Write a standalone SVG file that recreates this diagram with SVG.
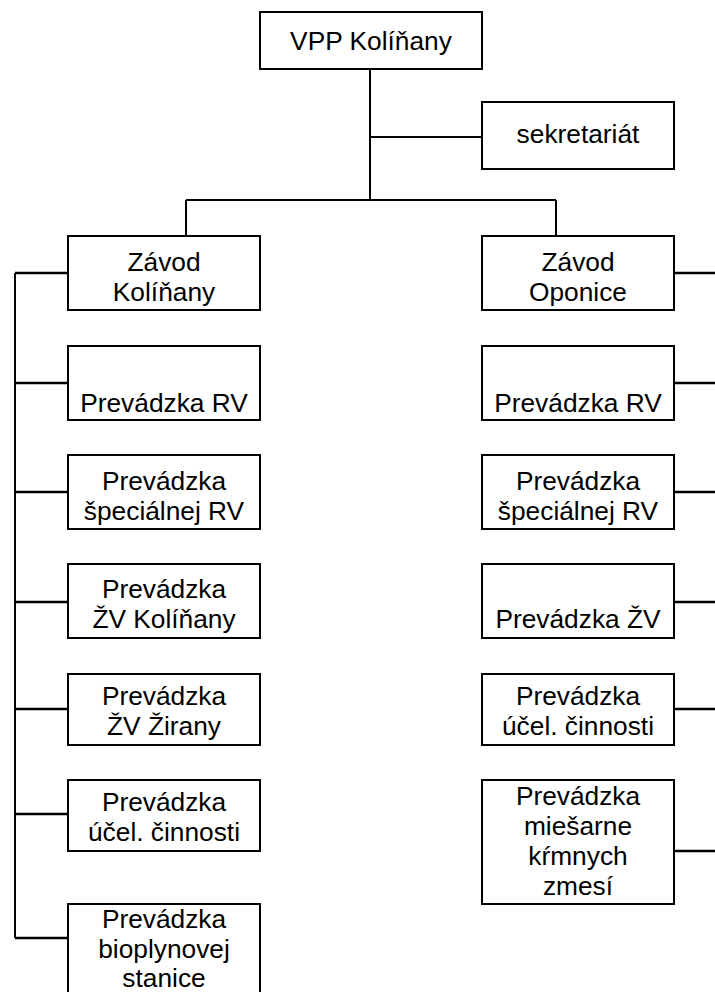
<svg xmlns="http://www.w3.org/2000/svg" width="715" height="992" viewBox="0 0 715 992">
<style>
.box{fill:#fff;stroke:#000;stroke-width:2}
.t{font-family:"Liberation Sans",Arial,sans-serif;font-size:26.3px;fill:#000;text-anchor:middle}
.c{stroke:#000;stroke-width:2;fill:none}
.s{stroke:#000;stroke-width:2.5;fill:none}
</style>
<rect width="715" height="992" fill="#fff"/>
<g id="connectors">
<path class="c" d="M370,69 V200 M370,137 H482 M186,200 H556 M186,200 V236 M556,200 V236"/>
<path class="c" d="M15,273 V938"/>
<path class="s" d="M15,273 H68 M15,383 H68 M15,492 H68 M15,602 H68 M15,709 H68 M15,814 H68 M15,938 H68"/>
<path class="s" d="M674,273 H715 M674,383 H715 M674,492 H715 M674,602 H715 M674,709 H715 M674,851 H715"/>
</g>
<g id="n-vpp"><rect class="box" x="260" y="12" width="222" height="57"/><text class="t" x="371" y="50">VPP Kolíňany</text></g>
<g id="n-sekretariat"><rect class="box" x="482" y="102" width="192" height="67"/><text class="t" x="578" y="143">sekretariát</text></g>
<g id="n-zavod-kol"><rect class="box" x="68" y="236" width="192" height="74"/><text class="t" x="164" y="271">Závod</text><text class="t" x="164" y="301">Kolíňany</text></g>
<g id="n-zavod-opo"><rect class="box" x="482" y="236" width="192" height="74"/><text class="t" x="578" y="271">Závod</text><text class="t" x="578" y="301">Oponice</text></g>
<g id="n-l-rv"><rect class="box" x="68" y="346" width="192" height="74"/><text class="t" x="164" y="412">Prevádzka RV</text></g>
<g id="n-l-srv"><rect class="box" x="68" y="455" width="192" height="74"/><text class="t" x="164" y="490">Prevádzka</text><text class="t" x="164" y="520">špeciálnej RV</text></g>
<g id="n-l-zvk"><rect class="box" x="68" y="564" width="192" height="74"/><text class="t" x="164" y="598">Prevádzka</text><text class="t" x="164" y="628">ŽV Kolíňany</text></g>
<g id="n-l-zvz"><rect class="box" x="68" y="674" width="192" height="71"/><text class="t" x="164" y="705">Prevádzka</text><text class="t" x="164" y="735">ŽV Žirany</text></g>
<g id="n-l-uc"><rect class="box" x="68" y="780" width="192" height="71"/><text class="t" x="164" y="811">Prevádzka</text><text class="t" x="164" y="841">účel. činnosti</text></g>
<g id="n-l-bio"><rect class="box" x="68" y="904" width="192" height="100"/><text class="t" x="164" y="928">Prevádzka</text><text class="t" x="164" y="958">bioplynovej</text><text class="t" x="164" y="987">stanice</text></g>
<g id="n-r-rv"><rect class="box" x="482" y="346" width="192" height="74"/><text class="t" x="578" y="412">Prevádzka RV</text></g>
<g id="n-r-srv"><rect class="box" x="482" y="455" width="192" height="74"/><text class="t" x="578" y="490">Prevádzka</text><text class="t" x="578" y="520">špeciálnej RV</text></g>
<g id="n-r-zv"><rect class="box" x="482" y="564" width="192" height="74"/><text class="t" x="578" y="628">Prevádzka ŽV</text></g>
<g id="n-r-uc"><rect class="box" x="482" y="674" width="192" height="71"/><text class="t" x="578" y="705">Prevádzka</text><text class="t" x="578" y="735">účel. činnosti</text></g>
<g id="n-r-mies"><rect class="box" x="482" y="780" width="192" height="124"/><text class="t" x="578" y="805">Prevádzka</text><text class="t" x="578" y="835">miešarne</text><text class="t" x="578" y="865">kŕmnych</text><text class="t" x="578" y="895">zmesí</text></g>
</svg>
